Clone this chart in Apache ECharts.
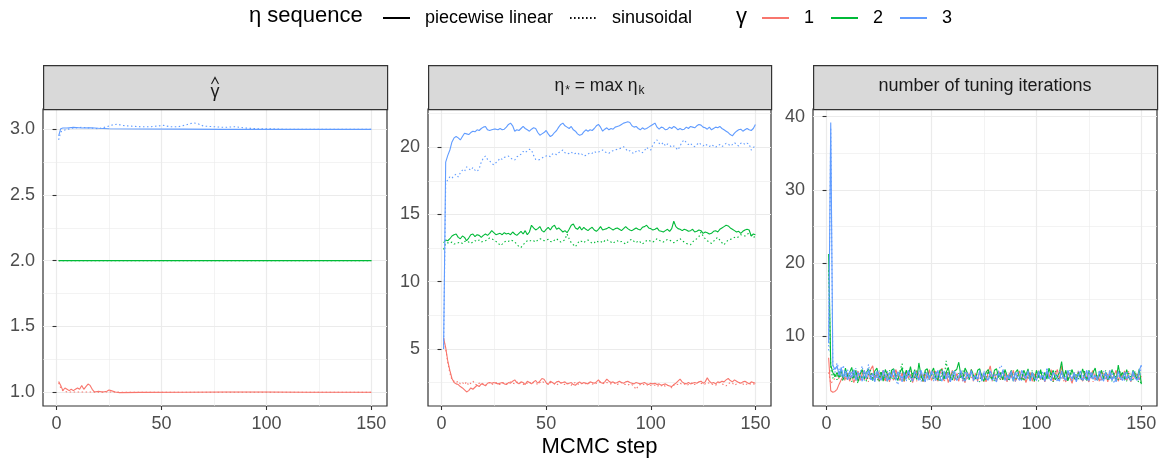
<!DOCTYPE html>
<html>
<head>
<meta charset="utf-8">
<script src="https://cdn.jsdelivr.net/npm/echarts@6/dist/echarts.min.js"></script>
<style>
html, body { margin: 0; padding: 0; background: #fff; }
#main { width: 1163px; height: 464px; }
</style>
</head>
<body>
<div id="main"></div>
<script>
// 数据
var xTicks = [0, 50, 100, 150];
var xMinor = [25, 75, 125];
var yTicks1 = [1.0, 1.5, 2.0, 2.5, 3.0];
var yMinor1 = [1.25, 1.75, 2.25, 2.75];
var yTicks2 = [5, 10, 15, 20];
var yMinor2 = [2.5, 7.5, 12.5, 17.5, 22.5];
var yTicks3 = [10, 20, 30, 40];
var yMinor3 = [5, 15, 25, 35];

// panel 1: gamma hat (sparse steps)
var ghat3SolidX = [1, 2, 3, 5, 8, 12, 16, 20, 25, 40, 60, 80, 100, 120, 150];
var ghat3Solid  = [2.95, 3.005, 3.01, 3.01, 3.015, 3.01, 3.012, 3.008, 3.005, 3.003, 3.002, 3.0, 3.0, 3.0, 3.0];
var ghat3DotX = [1, 2, 3, 5, 8, 12, 16, 20, 24, 27, 29, 31, 35, 40, 45, 48, 51, 54, 58, 62, 65, 67, 70, 75, 80, 85, 90, 95, 100, 110, 120, 130, 140, 150];
var ghat3Dot  = [2.92, 2.98, 2.99, 3.0, 3.01, 3.015, 3.01, 3.005, 3.02, 3.035, 3.04, 3.03, 3.025, 3.02, 3.02, 3.025, 3.03, 3.02, 3.02, 3.035, 3.05, 3.045, 3.025, 3.02, 3.015, 3.02, 3.01, 3.005, 3.005, 3.0, 3.0, 3.0, 3.0, 3.0];
var ghat2X = [1, 150];
var ghat2Solid = [2.0, 2.0];
var ghat2Dot = [2.0, 2.0];
var ghat1SolidX = [1, 2, 3, 4, 5, 6, 7, 8, 9, 10, 11, 12, 13, 14, 15, 16, 17, 18, 20, 22, 24, 25, 26, 28, 30, 40, 60, 80, 100, 120, 150];
var ghat1Solid  = [1.08, 1.05, 1.01, 1.03, 1.02, 1.01, 1.02, 1.01, 1.02, 1.03, 1.02, 1.05, 1.02, 1.04, 1.06, 1.05, 1.02, 1.0, 1.005, 1.0, 1.005, 1.015, 1.01, 1.0, 0.995, 0.997, 0.998, 1.0, 1.0, 0.998, 0.998];
var ghat1DotX = [1, 2, 3, 5, 8, 12, 16, 20, 25, 30, 50, 100, 150];
var ghat1Dot  = [1.07, 1.03, 1.01, 1.0, 1.0, 1.0, 1.0, 0.998, 1.0, 0.998, 0.998, 0.998, 0.997];

// panel 2: eta* = max eta_k (steps 1..150)
var eta3Solid = [5.0, 18.9, 19.4, 19.8, 20.4, 20.7, 20.8, 20.7, 20.55, 20.8,
  21.05, 21.0, 20.95, 21.1, 21.2, 21.15, 21.3, 21.25, 21.4, 21.5,
  21.55, 21.3, 21.25, 21.3, 21.35, 21.35, 21.3, 21.4, 21.3, 21.35,
  21.5, 21.7, 21.8, 21.6, 21.2, 21.3, 21.25, 21.4, 21.55, 21.4,
  21.3, 21.2, 21.35, 21.45, 21.4, 21.1, 20.9, 21.0, 21.1, 21.25,
  21.0, 20.8, 20.9, 21.1, 21.25, 21.5, 21.7, 21.8, 21.6, 21.5,
  21.4, 21.55, 21.3, 21.2, 21.0, 20.9, 20.95, 21.15, 21.3, 21.2,
  21.3, 21.25, 21.4, 21.6, 21.7, 21.5, 21.2, 21.35, 21.45, 21.3,
  21.4, 21.35, 21.5, 21.55, 21.6, 21.7, 21.8, 21.85, 21.9, 21.85,
  21.6, 21.5, 21.55, 21.4, 21.3, 21.45, 21.35, 21.4, 21.5, 21.6,
  21.7, 21.8, 21.5, 21.35, 21.5, 21.45, 21.3, 21.35, 21.5, 21.4,
  21.55, 21.45, 21.3, 21.4, 21.3, 21.35, 21.5, 21.4, 21.55, 21.5,
  21.45, 21.6, 21.7, 21.65, 21.5, 21.45, 21.35, 21.5, 21.3, 21.4,
  21.5, 21.45, 21.55, 21.4, 21.3, 21.2, 21.1, 20.95, 20.85, 21.05,
  21.2, 21.3, 21.35, 21.2, 21.3, 21.4, 21.3, 21.25, 21.4, 21.7];
var eta3Dot = [5.0, 17.3, 17.6, 17.8, 17.7, 17.9, 18.0, 17.8, 18.1, 18.3,
  18.2, 18.55, 18.4, 18.3, 18.5, 18.3, 18.2, 18.4, 18.9, 19.2,
  19.35, 19.1, 19.0, 18.8, 18.7, 18.85, 19.0, 19.2, 19.1, 19.25,
  19.3, 19.35, 19.2, 19.1, 19.05, 19.3, 19.35, 19.5, 19.7, 19.6,
  19.75, 19.85, 19.8, 19.4, 19.1, 19.05, 19.1, 19.2, 19.3, 19.35,
  19.4, 19.3, 19.5, 19.55, 19.45, 19.6, 19.7, 19.8, 19.6, 19.5,
  19.55, 19.65, 19.5, 19.55, 19.6, 19.45, 19.5, 19.35, 19.4, 19.5,
  19.6, 19.55, 19.7, 19.6, 19.65, 19.7, 19.8, 19.65, 19.6, 19.55,
  19.7, 19.75, 19.8, 19.85, 19.9, 19.95, 20.05, 19.9, 19.7, 19.75,
  19.6, 19.55, 19.7, 19.8, 19.65, 19.6, 19.75, 20.0, 19.85, 19.8,
  20.2, 20.4, 20.55, 20.3, 20.2, 20.35, 20.1, 20.25, 20.15, 20.0,
  20.1, 19.95, 19.8, 20.1, 20.4, 20.55, 20.35, 20.2, 20.3, 20.1,
  20.05, 20.2, 20.35, 20.2, 20.1, 20.25, 20.15, 20.05, 20.2, 20.1,
  20.0, 20.15, 20.2, 20.05, 20.15, 20.3, 20.25, 20.1, 20.2, 20.35,
  20.2, 20.1, 20.3, 20.35, 20.2, 20.3, 20.25, 19.8, 19.95, 20.2];
var eta2Solid = [12.9, 13.1, 13.05, 13.2, 13.4, 13.5, 13.55, 13.3, 13.2, 13.4,
  13.3, 13.05, 13.25, 13.5, 13.55, 13.35, 13.5, 13.45, 13.3, 13.45,
  13.55, 13.45, 13.6, 13.8, 13.65, 13.5, 13.55, 13.6, 13.5, 13.65,
  13.55, 13.6, 13.5, 13.7, 13.55, 13.45, 13.6, 13.75, 13.55, 13.8,
  13.5, 13.7, 14.2, 14.0, 13.85, 13.95, 14.1, 13.8, 13.7, 13.9,
  14.05, 13.85, 14.1, 14.2, 13.9, 14.0, 13.85, 13.7, 13.8, 13.65,
  13.9, 14.2, 14.3, 14.0, 13.9, 14.1, 13.85, 14.05, 13.9, 13.8,
  13.95, 14.05, 13.85, 13.75, 13.9, 14.1, 13.85, 13.9, 13.95, 14.05,
  13.95, 13.85, 13.95, 14.0, 13.9, 13.8, 13.95, 14.1, 13.95, 13.85,
  13.8, 13.9, 14.0, 13.9, 13.85, 14.05, 14.1, 14.2, 14.0, 13.95,
  13.85, 13.9, 14.0, 13.8, 13.75, 13.7, 13.8, 13.9, 13.75, 13.95,
  14.5, 14.1, 13.95, 13.9, 13.8, 13.9, 13.85, 13.75, 13.8, 13.9,
  13.7, 13.75, 13.85, 13.8, 13.6, 13.7, 13.65, 13.55, 13.6, 13.75,
  13.8, 13.7, 13.9, 14.0, 14.1, 14.2, 14.15, 14.0, 13.9, 13.8,
  13.7, 13.75, 13.6, 13.75, 13.85, 13.9, 13.85, 13.4, 13.55, 13.5];
var eta2Dot = [12.4, 12.85, 12.9, 12.85, 12.95, 12.8, 12.85, 12.9, 12.95, 12.85,
  13.0, 13.05, 12.95, 12.85, 12.95, 13.05, 13.0, 13.1, 12.95, 13.0,
  13.05, 13.15, 13.25, 13.2, 13.1, 13.0, 12.9, 12.7, 12.8, 12.95,
  13.05, 13.0, 13.1, 13.05, 12.95, 12.8, 12.6, 12.55, 12.75, 12.9,
  13.05, 13.0, 13.1, 13.05, 12.95, 13.1, 13.2, 13.15, 13.05, 13.1,
  13.15, 13.0, 12.95, 13.1, 13.2, 13.05, 12.95, 13.0, 13.15, 13.55,
  13.2, 12.9, 12.75, 12.6, 12.85, 13.05, 13.0, 12.9, 13.05, 13.1,
  13.0, 12.85, 12.9, 13.05, 12.95, 13.0, 12.9, 13.05, 13.15, 13.0,
  12.95, 12.85, 13.0, 13.05, 12.95, 13.0, 12.9, 12.8, 12.95, 13.1,
  13.15, 13.0, 12.9, 13.05, 12.95, 12.8, 12.95, 13.05, 13.1, 13.0,
  12.95, 13.05, 13.2, 13.1, 13.0, 12.95, 13.05, 13.15, 13.1, 13.0,
  12.9, 13.0, 13.1, 13.2, 13.05, 12.95, 12.85, 12.8, 12.75, 12.95,
  13.1, 13.2, 13.35, 13.7, 13.4, 13.2, 13.05, 12.95, 12.85, 13.0,
  13.2, 13.3, 13.1, 12.9, 12.75, 12.95, 13.1, 13.15, 13.2, 13.3,
  13.25, 13.35, 13.5, 13.45, 13.4, 13.55, 13.6, 13.45, 13.3, 13.35];
var eta1Solid = [5.8, 5.1, 4.1, 3.4, 2.8, 2.5, 2.4, 2.35, 2.2, 2.1,
  1.95, 1.8, 1.9, 2.1, 2.0, 2.15, 2.3, 2.2, 2.4, 2.35,
  2.25, 2.45, 2.5, 2.45, 2.5, 2.45, 2.4, 2.45, 2.5, 2.4,
  2.35, 2.5, 2.45, 2.6, 2.7, 2.5, 2.4, 2.55, 2.5, 2.35,
  2.6, 2.5, 2.4, 2.55, 2.65, 2.45, 2.6, 2.8, 2.75, 2.5,
  2.35, 2.6, 2.5, 2.4, 2.55, 2.6, 2.45, 2.5, 2.55, 2.4,
  2.45, 2.5, 2.35, 2.3, 2.45, 2.55, 2.4, 2.5, 2.45, 2.4,
  2.55, 2.5, 2.45, 2.55, 2.7, 2.5, 2.45, 2.55, 2.75, 2.6,
  2.5, 2.55, 2.45, 2.5, 2.6, 2.5, 2.45, 2.55, 2.6, 2.5,
  2.45, 2.4, 2.5, 2.45, 2.4, 2.45, 2.5, 2.4, 2.35, 2.45,
  2.4, 2.45, 2.35, 2.4, 2.3, 2.35, 2.4, 2.3, 2.25, 2.2,
  2.35, 2.45, 2.6, 2.75, 2.55, 2.45, 2.4, 2.5, 2.4, 2.45,
  2.5, 2.45, 2.55, 2.6, 2.45, 2.55, 2.85, 2.6, 2.45, 2.5,
  2.4, 2.55, 2.5, 2.6, 2.55, 2.7, 2.8, 2.65, 2.55, 2.7,
  2.6, 2.5, 2.45, 2.55, 2.6, 2.5, 2.4, 2.55, 2.5, 2.45];
var eta1Dot = [5.8, 5.0, 4.0, 3.2, 2.7, 2.6, 2.5, 2.6, 2.4, 2.5,
  2.35, 2.55, 2.3, 2.45, 2.6, 2.4, 2.3, 2.45, 2.5, 2.4,
  2.3, 2.4, 2.5, 2.35, 2.45, 2.5, 2.4, 2.35, 2.45, 2.5,
  2.4, 2.45, 2.55, 2.45, 2.4, 2.5, 2.6, 2.45, 2.35, 2.5,
  2.45, 2.55, 2.4, 2.5, 2.45, 2.35, 2.5, 2.6, 2.5, 2.45,
  2.4, 2.5, 2.45, 2.4, 2.3, 2.45, 2.5, 2.4, 2.35, 2.45,
  2.4, 2.3, 2.45, 2.5, 2.4, 2.35, 2.45, 2.5, 2.4, 2.45,
  2.5, 2.4, 2.35, 2.45, 2.5, 2.55, 2.45, 2.4, 2.5, 2.45,
  2.4, 2.5, 2.45, 2.35, 2.45, 2.5, 2.4, 2.35, 2.3, 2.4,
  2.35, 2.2, 2.0, 2.25, 2.35, 2.3, 2.4, 2.35, 2.25, 2.3,
  2.35, 2.3, 2.2, 2.3, 2.25, 2.35, 2.2, 2.3, 2.25, 2.1,
  2.3, 2.4, 2.35, 2.45, 2.35, 2.4, 2.3, 2.35, 2.4, 2.5,
  2.35, 2.45, 2.55, 2.45, 2.35, 2.4, 2.5, 2.45, 2.4, 2.35,
  2.3, 2.45, 2.5, 2.4, 2.35, 2.25, 2.4, 2.5, 2.45, 2.3,
  2.4, 2.5, 2.45, 2.4, 2.3, 2.4, 2.45, 2.35, 2.4, 2.35];

// panel 3: number of tuning iterations (steps 1..150)
var tune1Solid = [7.0, 2.5, 2.3, 2.4, 2.7, 3.4, 4.0, 4.5, 4.1, 4.9,
  3.8, 4.6, 3.6, 4.4, 5.2, 3.9, 4.8, 5.3, 4.0, 4.6,
  5.4, 5.9, 4.2, 5.0, 3.8, 4.6, 5.3, 4.0, 4.8, 3.7,
  5.1, 4.3, 5.4, 4.5, 3.9, 4.9, 3.8, 5.2, 4.2, 4.7,
  3.6, 4.5, 5.2, 4.0, 4.9, 3.7, 4.8, 4.2, 5.4, 3.9,
  4.6, 5.2, 3.8, 4.8, 5.6, 4.2, 5.0, 3.6, 4.5, 5.3,
  4.0, 4.8, 3.8, 5.2, 4.3, 3.6, 5.0, 4.5, 5.4, 3.9,
  4.8, 3.8, 5.2, 4.3, 4.6, 3.7, 5.0, 5.9, 4.2, 4.8,
  3.8, 5.2, 4.5, 4.0, 5.0, 3.7, 4.8, 4.3, 5.3, 3.8,
  4.5, 5.2, 4.0, 4.8, 3.6, 4.5, 5.0, 3.8, 4.8, 4.3,
  5.2, 4.0, 4.6, 3.7, 5.0, 4.3, 5.4, 3.8, 4.8, 5.4,
  4.0, 5.9, 4.5, 3.7, 5.0, 4.3, 3.5, 4.8, 4.0, 5.2,
  4.5, 3.8, 5.0, 4.3, 3.7, 4.8, 5.3, 4.0, 4.6, 3.8,
  5.2, 4.3, 4.8, 3.7, 5.0, 4.0, 4.6, 5.3, 3.8, 4.8,
  4.3, 5.2, 4.0, 4.6, 3.7, 5.0, 4.3, 4.8, 4.0, 4.5];
var tune1Dot = [5.0, 3.5, 3.8, 4.2, 4.6, 4.1, 5.0, 4.3, 3.8, 4.9,
  4.0, 5.2, 4.5, 3.9, 4.8, 4.3, 5.3, 4.0, 4.6, 3.7,
  5.0, 4.3, 3.9, 4.8, 5.2, 4.0, 4.6, 3.7, 5.0, 4.3,
  4.8, 3.8, 5.3, 4.5, 4.0, 5.0, 3.7, 4.8, 4.3, 5.2,
  4.0, 4.6, 3.8, 5.0, 4.3, 4.8, 3.7, 5.2, 4.0, 4.6,
  5.3, 3.9, 4.8, 4.3, 5.0, 3.7, 4.6, 5.2, 4.0, 4.8,
  3.8, 5.0, 4.3, 4.6, 3.7, 5.2, 4.0, 4.8, 4.3, 3.8,
  5.0, 4.5, 4.0, 4.8, 3.7, 5.2, 4.3, 4.6, 3.8, 5.0,
  4.3, 4.8, 4.0, 5.3, 4.5, 3.8, 5.0, 4.3, 4.8, 3.7,
  4.6, 5.2, 4.0, 4.8, 3.8, 5.0, 4.3, 4.6, 3.7, 4.8,
  5.2, 4.0, 4.6, 3.8, 5.0, 4.3, 4.8, 3.7, 4.6, 5.3,
  4.0, 4.8, 3.8, 5.2, 4.3, 4.6, 3.7, 5.0, 4.0, 4.8,
  4.3, 3.8, 5.2, 4.5, 4.0, 5.0, 3.7, 4.8, 4.3, 4.6,
  3.8, 5.0, 4.0, 4.8, 5.3, 4.3, 4.6, 3.7, 5.0, 4.0,
  4.8, 4.3, 3.8, 5.2, 4.5, 4.0, 5.0, 4.3, 4.8, 3.8];
var tune2Solid = [21.2, 6.0, 5.0, 4.4, 5.0, 4.3, 5.3, 4.1, 5.6, 4.4,
  5.0, 5.7, 4.2, 5.3, 3.8, 4.8, 5.4, 4.1, 5.0, 5.5,
  4.4, 3.9, 5.2, 5.6, 4.2, 5.0, 3.8, 5.4, 4.7, 4.0,
  5.3, 5.5, 4.4, 3.9, 5.0, 5.6, 4.2, 5.3, 4.6, 5.8,
  4.3, 5.4, 4.0, 6.3, 4.6, 3.9, 5.3, 5.5, 4.2, 5.0,
  5.6, 4.3, 4.0, 5.3, 5.4, 4.1, 5.0, 5.7, 4.3, 4.0,
  5.2, 5.4, 6.4, 4.6, 4.1, 5.6, 5.0, 4.0, 5.4, 4.6,
  4.1, 5.3, 5.5, 4.3, 3.8, 5.0, 5.4, 4.6, 4.0, 5.3,
  5.5, 4.3, 5.0, 4.0, 5.4, 4.6, 4.1, 5.3, 3.8, 5.0,
  5.4, 4.3, 4.0, 5.3, 4.6, 5.5, 4.1, 5.0, 3.8, 5.3,
  4.3, 5.4, 4.0, 5.0, 4.1, 5.6, 4.6, 5.3, 4.0, 4.4,
  5.0, 6.5, 4.2, 5.3, 3.9, 4.6, 5.4, 4.3, 4.0, 5.0,
  4.2, 5.5, 4.6, 3.9, 5.3, 4.3, 5.0, 5.6, 4.0, 4.6,
  5.3, 4.1, 5.0, 4.0, 4.4, 5.4, 4.6, 3.9, 6.0, 4.4,
  5.0, 4.0, 5.4, 4.3, 3.9, 5.3, 4.6, 4.1, 5.5, 3.4];
var tune2Dot = [19.0, 5.5, 4.2, 4.9, 4.0, 5.3, 4.3, 3.8, 5.2, 4.1,
  4.6, 3.7, 5.3, 4.3, 3.5, 4.9, 4.1, 5.2, 3.8, 4.6,
  5.3, 4.0, 4.9, 4.3, 3.7, 5.2, 4.1, 4.6, 3.8, 5.3,
  4.3, 4.0, 4.9, 4.1, 5.2, 6.2, 3.8, 4.6, 4.3, 3.7,
  4.9, 4.1, 5.3, 4.0, 4.6, 3.8, 5.2, 4.3, 4.1, 4.9,
  4.0, 5.2, 4.3, 3.7, 4.9, 4.1, 6.6, 4.6, 3.8, 5.2,
  4.3, 4.0, 4.9, 4.1, 5.3, 3.8, 4.6, 4.3, 5.2, 4.0,
  4.6, 4.1, 3.7, 4.9, 4.3, 4.0, 5.2, 4.1, 4.6, 3.8,
  4.9, 4.3, 4.0, 5.3, 4.1, 4.6, 3.8, 5.2, 4.3, 4.0,
  4.6, 4.1, 5.2, 3.8, 4.9, 4.3, 4.0, 5.3, 4.1, 4.6,
  3.8, 5.2, 4.3, 4.0, 4.9, 4.1, 4.6, 3.7, 5.2, 4.3,
  4.0, 4.9, 4.1, 4.6, 3.8, 5.3, 4.3, 4.0, 4.9, 4.1,
  4.6, 3.8, 5.2, 4.3, 4.0, 4.9, 4.1, 4.6, 3.8, 5.2,
  4.3, 4.0, 5.3, 4.1, 4.6, 3.8, 4.9, 4.3, 4.0, 5.2,
  4.1, 4.6, 3.8, 4.9, 4.3, 4.0, 5.2, 4.1, 3.5, 3.7];
var tune3Solid = [9.0, 39.2, 6.0, 5.4, 5.9, 4.6, 5.7, 4.3, 5.2, 4.0,
  5.1, 4.3, 5.4, 3.9, 5.0, 4.6, 3.8, 5.3, 4.2, 5.4,
  4.0, 4.9, 3.7, 5.2, 4.3, 3.9, 5.3, 4.6, 3.8, 5.0,
  4.3, 5.4, 3.9, 5.1, 4.6, 3.7, 5.0, 4.1, 5.3, 4.3,
  3.8, 5.2, 4.6, 3.9, 5.3, 4.3, 3.7, 5.0, 4.1, 5.2,
  4.6, 3.9, 5.3, 4.3, 3.8, 5.2, 4.1, 5.0, 3.7, 4.6,
  5.2, 3.9, 4.3, 5.3, 4.1, 3.8, 5.0, 4.3, 5.2, 3.9,
  4.6, 4.1, 5.3, 3.8, 5.0, 4.3, 3.9, 5.2, 4.6, 4.1,
  3.7, 5.0, 4.3, 5.3, 3.9, 4.6, 4.1, 5.2, 3.8, 5.0,
  4.3, 3.9, 5.3, 4.6, 4.1, 5.2, 3.8, 5.0, 4.3, 3.9,
  5.2, 4.1, 4.6, 3.8, 5.3, 4.3, 3.9, 5.0, 4.6, 4.1,
  3.8, 5.2, 4.3, 3.9, 5.3, 4.6, 4.1, 5.0, 3.7, 4.6,
  5.2, 3.9, 4.3, 5.3, 3.8, 5.0, 4.1, 4.6, 3.9, 5.2,
  4.3, 3.8, 5.0, 4.1, 5.3, 3.9, 4.6, 3.7, 5.2, 4.3,
  3.9, 5.0, 4.1, 4.6, 3.8, 5.2, 4.3, 3.9, 5.3, 6.0];
var tune3Dot = [8.0, 38.5, 5.6, 5.0, 6.3, 5.4, 4.5, 6.0, 4.3, 5.4,
  4.0, 5.2, 4.5, 5.6, 4.1, 5.0, 5.9, 3.9, 4.8, 6.1,
  4.3, 3.8, 5.0, 4.1, 5.3, 3.9, 4.8, 4.3, 5.2, 3.8,
  4.6, 5.4, 4.0, 3.3, 5.0, 4.1, 4.8, 3.8, 5.2, 4.3,
  3.9, 4.9, 4.1, 5.3, 3.7, 4.6, 5.1, 3.9, 4.3, 4.9,
  3.8, 5.2, 4.3, 3.9, 5.3, 4.6, 4.0, 4.9, 3.7, 5.2,
  4.3, 3.9, 4.9, 4.6, 3.8, 5.2, 4.1, 4.3, 5.3, 3.9,
  4.6, 3.7, 4.9, 4.1, 5.2, 4.3, 3.9, 4.6, 3.8, 4.9,
  4.1, 5.3, 6.0, 5.5, 4.3, 3.9, 4.9, 4.1, 4.6, 3.8,
  5.2, 4.3, 3.9, 4.9, 4.1, 5.3, 3.8, 4.6, 4.3, 3.9,
  4.9, 4.1, 5.2, 3.8, 5.7, 4.3, 3.9, 4.9, 4.6, 3.7,
  5.2, 4.1, 4.6, 3.9, 5.3, 4.3, 3.8, 4.9, 4.1, 5.2,
  3.9, 4.6, 4.3, 3.8, 5.3, 4.1, 4.9, 3.9, 4.6, 4.3,
  3.8, 5.2, 4.1, 4.6, 3.9, 5.3, 3.5, 4.3, 4.9, 4.1,
  4.6, 3.9, 5.2, 4.3, 3.8, 4.9, 4.1, 4.6, 3.9, 6.1];

// 颜色和版面
var colors = { g1: '#F8766D', g2: '#00BA38', g3: '#619CFF' };
var panelLeft = [43, 428, 813];
var panelWidth = [344, 343, 344];
var panelTop = 109, panelHeight = 297;
var stripTop = 65, stripHeight = 44;
var yRange = [[0.893, 3.155], [0.755, 22.85], [0.41, 41.05]];
var xRange = [-6.45, 157.45];
var FONT = '"Liberation Sans", Arial, sans-serif';

function pairs(xs, ys) {
	return xs.map(function(x, i) { return [x, ys[i]]; });
}
function bySteps(ys) {
	return ys.map(function(y, i) { return [i + 1, y]; });
}

var chart = echarts.init(document.getElementById('main'));

var grids = [], xAxes = [], yAxes = [];
var yMajor = [yTicks1, yTicks2, yTicks3];
var yMinorAll = [yMinor1, yMinor2, yMinor3];
for (var p = 0; p < 3; p++) {
	grids.push({
		left: panelLeft[p], top: panelTop, width: panelWidth[p], height: panelHeight,
		show: true, borderColor: '#333333', borderWidth: 1.2, backgroundColor: '#ffffff'
	});
	xAxes.push({
		type: 'value', gridIndex: p, min: xRange[0], max: xRange[1], position: 'bottom',
		axisLine: { show: false },
		axisTick: { show: true, length: 4, customValues: xTicks, lineStyle: { color: '#333333', width: 1.1 } },
		axisLabel: { customValues: xTicks, color: '#4D4D4D', fontSize: 18, fontFamily: FONT, margin: 9 },
		splitLine: { show: true, lineStyle: { color: '#EBEBEB', width: 1.2 } }
	});
	xAxes.push({
		type: 'value', gridIndex: p, min: xRange[0], max: xRange[1], position: 'top',
		axisLine: { show: false },
		axisTick: { show: false, customValues: xMinor },
		axisLabel: { show: false, customValues: xMinor },
		splitLine: { show: true, lineStyle: { color: '#EBEBEB', width: 0.6 } }
	});
	yAxes.push({
		type: 'value', gridIndex: p, min: yRange[p][0], max: yRange[p][1], position: 'left',
		axisLine: { show: false },
		axisTick: { show: true, length: 4, customValues: yMajor[p], lineStyle: { color: '#333333', width: 1.1 } },
		axisLabel: {
			customValues: yMajor[p], color: '#4D4D4D', fontSize: 18, fontFamily: FONT, margin: 8,
			formatter: p === 0 ? function(v) { return v.toFixed(1); } : function(v) { return String(v); }
		},
		splitLine: { show: true, lineStyle: { color: '#EBEBEB', width: 1.2 } }
	});
	yAxes.push({
		type: 'value', gridIndex: p, min: yRange[p][0], max: yRange[p][1], position: 'right',
		axisLine: { show: false },
		axisTick: { show: false, customValues: yMinorAll[p] },
		axisLabel: { show: false, customValues: yMinorAll[p] },
		splitLine: { show: true, lineStyle: { color: '#EBEBEB', width: 0.6 } }
	});
}

function line(name, panel, data, color, dotted) {
	return {
		name: name, type: 'line', xAxisIndex: panel * 2, yAxisIndex: panel * 2,
		data: data, symbol: 'none', showSymbol: false, silent: true,
		lineStyle: { color: color, width: 1.1, type: dotted ? [1.5, 2.5] : 'solid' },
		itemStyle: { color: color }
	};
}
// 图例用的空系列（符号透明）
function legendOnly(name, color, dotted) {
	return {
		name: name, type: 'line', data: [], symbol: 'none',
		lineStyle: { color: color, width: 1.2, type: dotted ? [1.5, 2.5] : 'solid' },
		itemStyle: { color: 'rgba(0,0,0,0)', borderWidth: 0 }
	};
}

var series = [
	legendOnly('piecewise linear', '#000000', false),
	legendOnly('sinusoidal', '#000000', true),
	legendOnly('1', colors.g1, false),
	legendOnly('2', colors.g2, false),
	legendOnly('3', colors.g3, false),

	line('p1g1s', 0, pairs(ghat1SolidX, ghat1Solid), colors.g1, false),
	line('p1g1d', 0, pairs(ghat1DotX, ghat1Dot), colors.g1, true),
	line('p1g2s', 0, pairs(ghat2X, ghat2Solid), colors.g2, false),
	line('p1g2d', 0, pairs(ghat2X, ghat2Dot), colors.g2, true),
	line('p1g3s', 0, pairs(ghat3SolidX, ghat3Solid), colors.g3, false),
	line('p1g3d', 0, pairs(ghat3DotX, ghat3Dot), colors.g3, true),

	line('p2g1s', 1, bySteps(eta1Solid), colors.g1, false),
	line('p2g1d', 1, bySteps(eta1Dot), colors.g1, true),
	line('p2g2s', 1, bySteps(eta2Solid), colors.g2, false),
	line('p2g2d', 1, bySteps(eta2Dot), colors.g2, true),
	line('p2g3s', 1, bySteps(eta3Solid), colors.g3, false),
	line('p2g3d', 1, bySteps(eta3Dot), colors.g3, true),

	line('p3g1s', 2, bySteps(tune1Solid), colors.g1, false),
	line('p3g1d', 2, bySteps(tune1Dot), colors.g1, true),
	line('p3g2s', 2, bySteps(tune2Solid), colors.g2, false),
	line('p3g2d', 2, bySteps(tune2Dot), colors.g2, true),
	line('p3g3s', 2, bySteps(tune3Solid), colors.g3, false),
	line('p3g3d', 2, bySteps(tune3Dot), colors.g3, true)
];

var graphics = [];
for (var s = 0; s < 3; s++) {
	graphics.push({
		type: 'rect', left: panelLeft[s], top: stripTop,
		shape: { width: panelWidth[s], height: stripHeight },
		style: { fill: '#D9D9D9', stroke: '#333333', lineWidth: 1.2 }, z: 10
	});
}
// strip 1: gamma hat
graphics.push({
	type: 'polyline', shape: { points: [[211.5, 84], [215, 77.5], [218.5, 84]] },
	style: { stroke: '#1A1A1A', lineWidth: 1.1, fill: null }, z: 11
});
graphics.push({
	type: 'text', x: 215, y: 92,
	style: { text: 'γ', font: '18px ' + FONT, fill: '#1A1A1A', align: 'center', verticalAlign: 'middle' }, z: 11
});
// strip 2
graphics.push({
	type: 'text', x: 599.5, y: 86,
	style: {
		text: '{a|η}{s|*}{a| = max η}{s|k}',
		align: 'center', verticalAlign: 'middle',
		rich: {
			a: { font: '17.5px ' + FONT, fill: '#1A1A1A', lineHeight: 22 },
			s: { font: '12px ' + FONT, fill: '#1A1A1A', lineHeight: 22, padding: [9, 0, 0, 1] }
		}
	}, z: 11
});
// strip 3
graphics.push({
	type: 'text', x: 985, y: 86,
	style: { text: 'number of tuning iterations', font: '18px ' + FONT, fill: '#1A1A1A', align: 'center', verticalAlign: 'middle' }, z: 11
});
// x 轴标题
graphics.push({
	type: 'text', x: 599.5, y: 447,
	style: { text: 'MCMC step', font: '22px ' + FONT, fill: '#000000', align: 'center', verticalAlign: 'middle' }, z: 11
});
// 图例标题
graphics.push({
	type: 'text', x: 249, y: 16,
	style: { text: 'η sequence', font: '22px ' + FONT, fill: '#000000', align: 'left', verticalAlign: 'middle' }, z: 11
});
graphics.push({
	type: 'text', x: 736, y: 17,
	style: { text: 'γ', font: '22px ' + FONT, fill: '#000000', align: 'left', verticalAlign: 'middle' }, z: 11
});

var option = {
	animation: false,
	backgroundColor: '#ffffff',
	grid: grids,
	xAxis: xAxes,
	yAxis: yAxes,
	legend: [{
		left: 377, top: 4, itemWidth: 27, itemHeight: 14, itemGap: 16,
		data: ['piecewise linear', 'sinusoidal'],
		textStyle: { fontSize: 18, fontFamily: FONT, color: '#000', padding: [0, 0, 0, 10] },
		selectedMode: false
	}, {
		left: 756, top: 4, itemWidth: 27, itemHeight: 14, itemGap: 16,
		data: ['1', '2', '3'],
		textStyle: { fontSize: 18, fontFamily: FONT, color: '#000', padding: [0, 0, 0, 10] },
		selectedMode: false
	}],
	series: series,
	graphic: graphics
};
chart.setOption(option);
</script>
</body>
</html>
